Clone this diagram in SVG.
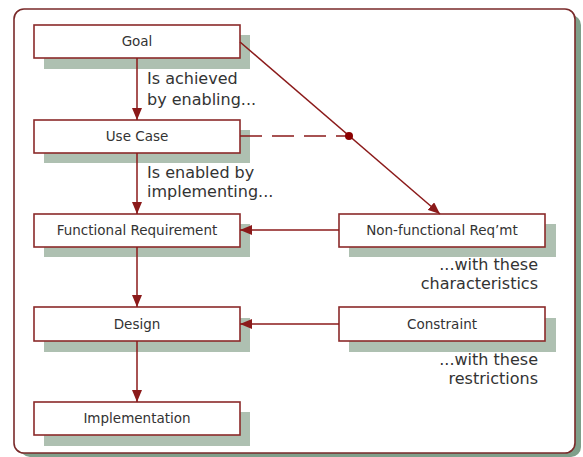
<svg xmlns="http://www.w3.org/2000/svg" width="583" height="457" viewBox="0 0 583 457">
<defs>
<style>
.box{fill:#ffffff;stroke:#8b2a2a;stroke-width:1.6}
.sh{fill:#aec0b1}
.lbl{font-family:"DejaVu Sans",Verdana,sans-serif;font-size:13.5px;fill:#333333;text-anchor:middle}
.ann{font-family:"DejaVu Sans",Verdana,sans-serif;font-size:16px;fill:#333333}
.ln{stroke:#8b1a1a;stroke-width:1.5;fill:none}
</style>
<marker id="ah" viewBox="0 0 12 10" refX="12" refY="5" markerWidth="12" markerHeight="10" markerUnits="userSpaceOnUse" orient="auto">
<path d="M0,0 L12,5 L0,10 Z" fill="#8b1a1a"/>
</marker>
</defs>
<rect x="0" y="0" width="583" height="457" fill="#ffffff"/>
<g id="frame">
<rect x="20" y="15" width="561" height="442" rx="10" fill="#7f9f8a"/>
<rect x="14" y="9" width="561" height="444" rx="10" fill="#ffffff" stroke="#7a2a2a" stroke-width="1.6"/>
</g>
<g id="goal">
<rect class="sh" x="44" y="35" width="206" height="34"/>
<rect class="box" x="34" y="25" width="206" height="33"/>
<text class="lbl" x="137" y="46">Goal</text>
</g>
<g id="usecase">
<rect class="sh" x="44" y="130" width="206" height="33"/>
<rect class="box" x="34" y="120" width="206" height="33"/>
<text class="lbl" x="137" y="141">Use Case</text>
</g>
<g id="funcreq">
<rect class="sh" x="44" y="224" width="206" height="33"/>
<rect class="box" x="34" y="214" width="206" height="33"/>
<text class="lbl" x="137" y="235">Functional Requirement</text>
</g>
<g id="design">
<rect class="sh" x="44" y="318" width="206" height="34"/>
<rect class="box" x="34" y="307" width="206" height="34"/>
<text class="lbl" x="137" y="329">Design</text>
</g>
<g id="implementation">
<rect class="sh" x="44" y="412" width="206" height="34"/>
<rect class="box" x="34" y="402" width="206" height="33"/>
<text class="lbl" x="137" y="423">Implementation</text>
</g>
<g id="nonfunc">
<rect class="sh" x="349" y="224" width="207" height="33"/>
<rect class="box" x="339" y="214" width="206" height="33"/>
<text class="lbl" x="442" y="235">Non-functional Req’mt</text>
</g>
<g id="constraint">
<rect class="sh" x="349" y="318" width="207" height="34"/>
<rect class="box" x="339" y="307" width="206" height="34"/>
<text class="lbl" x="442" y="329">Constraint</text>
</g>
<g id="connectors">
<line class="ln" x1="137" y1="58" x2="137" y2="120" marker-end="url(#ah)"/>
<line class="ln" x1="137" y1="153" x2="137" y2="214" marker-end="url(#ah)"/>
<line class="ln" x1="137" y1="247" x2="137" y2="307" marker-end="url(#ah)"/>
<line class="ln" x1="137" y1="341" x2="137" y2="402" marker-end="url(#ah)"/>
<line class="ln" x1="339" y1="230" x2="240" y2="230" marker-end="url(#ah)"/>
<line class="ln" x1="339" y1="324" x2="240" y2="324" marker-end="url(#ah)"/>
<line class="ln" x1="240" y1="42" x2="440" y2="214" marker-end="url(#ah)"/>
<line class="ln" x1="240" y1="136" x2="350" y2="136" stroke-dasharray="22 10"/>
<circle cx="349" cy="136" r="4" fill="#8b0000"/>
</g>
<g id="annotations">
<text class="ann" x="147" y="84">Is achieved</text>
<text class="ann" x="147" y="105">by enabling...</text>
<text class="ann" x="147" y="178">Is enabled by</text>
<text class="ann" x="147" y="197">implementing...</text>
<text class="ann" x="538" y="270" text-anchor="end">...with these</text>
<text class="ann" x="538" y="289" text-anchor="end">characteristics</text>
<text class="ann" x="538" y="365" text-anchor="end">...with these</text>
<text class="ann" x="538" y="384" text-anchor="end">restrictions</text>
</g>
</svg>
